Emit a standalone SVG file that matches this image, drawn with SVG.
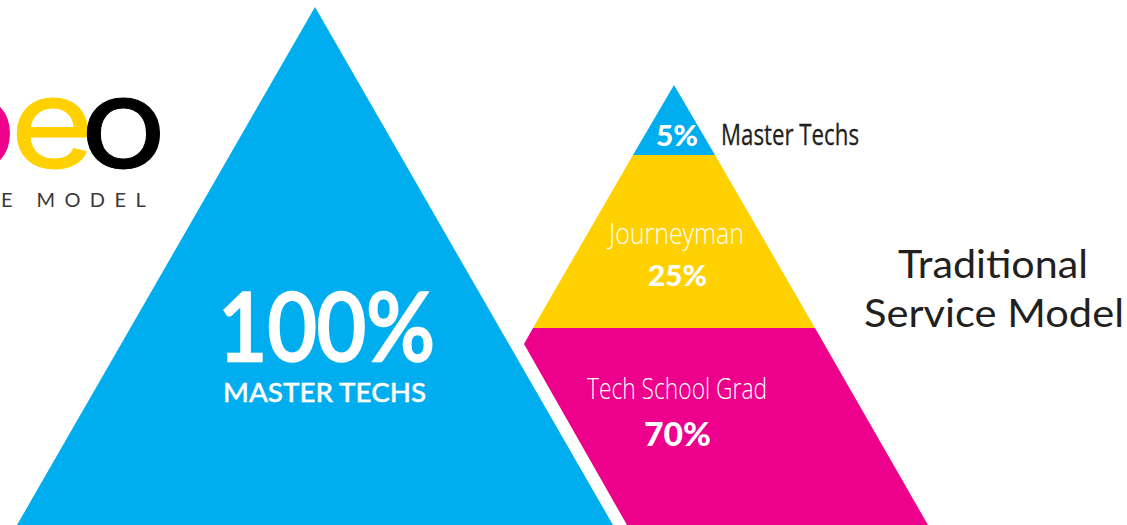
<svg xmlns="http://www.w3.org/2000/svg" width="1127" height="525" viewBox="0 0 1127 525">
<style>
.w{fill:#fff}
.b{font-family:"Lato","Liberation Sans",sans-serif;font-weight:900}
.n{font-family:"Open Sans","Liberation Sans",sans-serif}
.t{font-family:"Lato","Liberation Sans",sans-serif;fill:#231f20;font-size:39px}
.logo{font-family:"Inter","Liberation Sans",sans-serif;font-size:127px;font-weight:400}
</style>
<rect width="1127" height="525" fill="#fff"/>
<g id="logo">
<text class="logo" transform="translate(-72 168) scale(1.14 1)" fill="#ec008c" stroke="#ec008c" stroke-width="1">p</text>
<text class="logo" transform="translate(10 168) scale(1.14 1)" fill="#ffd100" stroke="#ffd100" stroke-width="1">e</text>
<text class="logo" transform="translate(80 168) scale(1.14 1)" fill="#000" stroke="#000" stroke-width="1">o</text>
<text x="1" y="207" font-family="Lato,'Liberation Sans',sans-serif" font-size="20" fill="#3a3839" letter-spacing="9.4">E MODEL</text>
</g>
<g id="big-triangle">
<polygon points="315,7 613,525 17,525" fill="#00aeef"/>
<text class="w" x="218" y="361" font-family="Lato,'Liberation Sans',sans-serif" font-weight="500" font-size="94" textLength="217" lengthAdjust="spacingAndGlyphs" stroke="#fff" stroke-width="2.5">100%</text>
<text class="w" x="223" y="402" font-family="Lato,'Liberation Sans',sans-serif" font-weight="500" font-size="26" textLength="203" lengthAdjust="spacingAndGlyphs" stroke="#fff" stroke-width=".4">MASTER TECHS</text>
</g>
<g id="tier-top">
<polygon points="674,85 715,155 633,155" fill="#00aeef"/>
<text class="b w" x="656" y="146" font-size="28" textLength="42" lengthAdjust="spacingAndGlyphs">5%</text>
<text class="n" x="721" y="145" font-size="29" fill="#231f20" stroke="#231f20" stroke-width=".3" textLength="138" lengthAdjust="spacingAndGlyphs">Master Techs</text>
</g>
<g id="tier-middle">
<polygon points="633,155 715,155 815,328 533,328" fill="#ffd100"/>
<text class="n w" x="609" y="244" font-size="29" font-weight="300" textLength="135" lengthAdjust="spacingAndGlyphs">Journeyman</text>
<text class="b w" x="648" y="286" font-size="28" textLength="59" lengthAdjust="spacingAndGlyphs">25%</text>
</g>
<g id="tier-bottom">
<polygon points="533,328 815,328 928,525 627,525 524,344" fill="#ec008c"/>
<text class="n w" x="587" y="399" font-size="29" font-weight="300" textLength="180" lengthAdjust="spacingAndGlyphs">Tech School Grad</text>
<text class="b w" x="644" y="446" font-size="32" textLength="67" lengthAdjust="spacingAndGlyphs">70%</text>
</g>
<g id="caption">
<text class="t" x="898" y="278" textLength="190" lengthAdjust="spacingAndGlyphs">Traditional</text>
<text class="t" x="864" y="327" textLength="260" lengthAdjust="spacingAndGlyphs">Service Model</text>
</g>
<g id="connectors"/>
</svg>
